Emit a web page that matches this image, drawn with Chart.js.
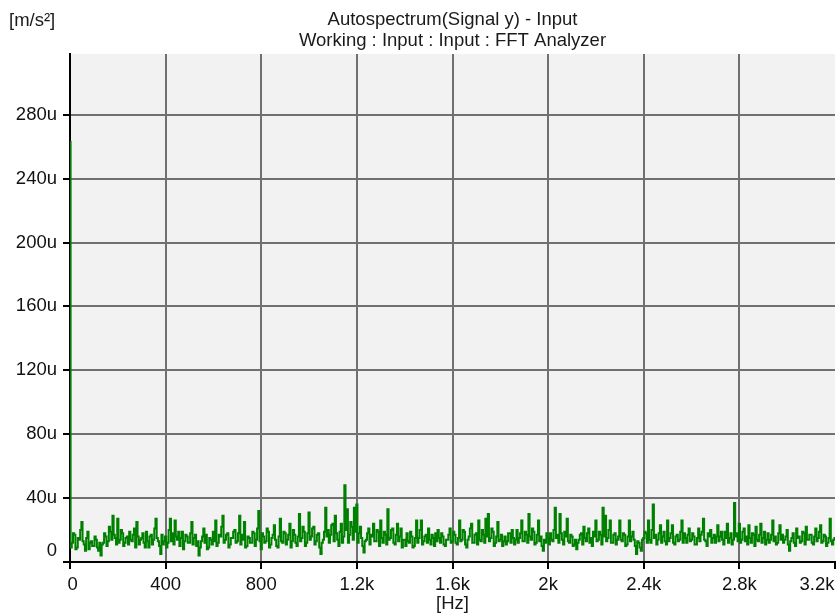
<!DOCTYPE html>
<html><head><meta charset="utf-8">
<script src="https://cdn.jsdelivr.net/npm/chart.js@4.4.1/dist/chart.umd.min.js"></script>
<style>html,body{margin:0;padding:0;background:#fff}canvas{display:block}</style>
</head><body>
<canvas id="c" width="838" height="614"></canvas>
<script>
// ---- texts ----
const titleLines = ['Autospectrum(Signal y) - Input', 'Working : Input : Input : FFT Analyzer'];
const yUnitLabel = '[m/s\u00B2]';
const xUnitLabel = '[Hz]';

// ---- axes ----
const xTickValues = [0, 400, 800, 1200, 1600, 2000, 2400, 2800, 3200];
const xTickLabels = [' 0', '400', '800', '1.2k', '1.6k', '2k', '2.4k', '2.8k', '3.2k       '];
const yTickValues = [0, 40, 80, 120, 160, 200, 240, 280];
const yTickLabels = ['0', '40u', '80u', '120u', '160u', '200u', '240u', '280u'];
const xMaxHz = 3200;
const yMaxMicro = 318;

// ---- series: autospectrum in micro m/s², one value every 5 Hz from 0 Hz (20 values per 100 Hz row) ----
const freqStepHz = 5;
const spectrumMicro = [
  263, 9, 12, 18, 17, 8, 9, 15, 14, 20, 25, 13, 11, 7, 15, 19, 8, 12, 13, 10,
  10, 16, 14, 9, 7, 12, 4, 11, 12, 18, 16, 10, 13, 22, 19, 14, 29, 17, 15, 11,
  27, 12, 14, 20, 18, 10, 12, 15, 16, 11, 19, 14, 13, 17, 21, 9, 25, 16, 11, 14,
  15, 18, 12, 9, 19, 13, 9, 16, 17, 11, 14, 21, 27, 15, 13, 10, 5, 17, 11, 13,
  16, 9, 12, 20, 27, 13, 18, 11, 26, 16, 14, 19, 10, 15, 19, 8, 13, 17, 16, 12,
  12, 18, 25, 11, 15, 17, 10, 13, 4, 9, 13, 16, 21, 12, 17, 8, 9, 15, 14, 11,
  19, 13, 26, 10, 12, 17, 16, 22, 29, 12, 14, 17, 18, 9, 11, 15, 15, 19, 20, 12,
  13, 18, 29, 11, 17, 14, 25, 9, 10, 16, 15, 12, 12, 19, 18, 10, 14, 21, 32, 13,
  8, 18, 16, 12, 13, 21, 19, 9, 11, 15, 17, 23, 14, 10, 9, 16, 27, 13, 12, 19,
  18, 11, 14, 17, 24, 9, 13, 20, 17, 12, 10, 16, 30, 13, 15, 22, 19, 10, 12, 18,
  31, 14, 16, 21, 22, 11, 13, 17, 18, 9, 5, 12, 14, 19, 34, 16, 20, 12, 17, 23,
  24, 13, 29, 18, 14, 10, 19, 24, 12, 16, 48, 20, 33, 12, 17, 25, 22, 14, 34, 19,
  36, 12, 18, 22, 15, 10, 6, 13, 14, 18, 21, 11, 17, 16, 24, 13, 13, 20, 19, 10,
  26, 15, 12, 19, 17, 11, 33, 14, 15, 20, 21, 12, 11, 17, 24, 13, 16, 21, 9, 14,
  14, 10, 18, 13, 12, 19, 16, 9, 10, 15, 26, 12, 15, 20, 26, 11, 13, 16, 17, 12,
  21, 14, 11, 17, 15, 10, 18, 13, 20, 15, 12, 18, 16, 11, 10, 14, 14, 17, 21, 12,
  13, 19, 17, 12, 11, 15, 26, 13, 14, 20, 19, 11, 9, 14, 16, 21, 24, 12, 12, 17,
  18, 11, 26, 14, 13, 20, 17, 12, 27, 16, 30, 13, 15, 21, 19, 10, 12, 16, 25, 13,
  14, 17, 10, 13, 16, 11, 13, 18, 18, 12, 20, 15, 11, 14, 20, 12, 15, 18, 26, 13,
  13, 19, 17, 12, 30, 16, 14, 21, 19, 11, 12, 17, 26, 13, 16, 10, 7, 14, 12, 18,
  15, 11, 18, 14, 13, 20, 34, 15, 17, 12, 30, 18, 14, 11, 19, 16, 27, 13, 12, 17,
  16, 10, 11, 14, 8, 12, 14, 17, 18, 11, 22, 15, 13, 18, 21, 12, 15, 10, 19, 16,
  26, 13, 14, 19, 17, 11, 34, 16, 29, 13, 15, 20, 26, 12, 12, 17, 18, 11, 14, 16,
  26, 14, 13, 18, 17, 10, 11, 16, 26, 13, 16, 19, 14, 10, 5, 13, 12, 9, 7, 14,
  15, 19, 18, 12, 26, 14, 12, 20, 36, 15, 17, 11, 14, 18, 23, 12, 16, 19, 13, 11,
  26, 13, 15, 18, 23, 12, 11, 16, 17, 13, 14, 19, 26, 12, 18, 15, 12, 17, 21, 13,
  14, 18, 16, 11, 11, 15, 21, 13, 17, 19, 27, 14, 13, 10, 18, 16, 20, 12, 15, 17,
  12, 16, 23, 13, 16, 19, 14, 11, 19, 15, 24, 12, 15, 18, 11, 14, 37, 16, 18, 13,
  24, 12, 14, 19, 21, 13, 16, 11, 23, 15, 12, 18, 17, 10, 22, 14, 13, 17, 24, 12,
  15, 19, 11, 14, 18, 12, 14, 17, 26, 13, 16, 11, 12, 18, 23, 14, 17, 12, 14, 16,
  20, 11, 7, 13, 15, 18, 12, 10, 21, 15, 16, 12, 13, 19, 18, 11, 22, 14, 14, 17,
  17, 12, 11, 16, 21, 13, 15, 19, 23, 12, 13, 17, 16, 10, 12, 15, 27, 13, 11, 14,
  15
];

// ---- styles ----
const FONT = '"Liberation Sans", Arial, sans-serif';
const FS = 18.5;
const points = spectrumMicro.map((v, i) => ({ x: i * freqStepHz, y: v }));

const plotBg = {
  id: 'plotBg',
  beforeDraw(chart) {
    const { ctx, chartArea: a } = chart;
    ctx.save();
    ctx.fillStyle = '#f2f2f2';
    ctx.fillRect(a.left, a.top, a.right - a.left, a.bottom - a.top);
    ctx.restore();
  }
};
const texts = {
  id: 'texts',
  afterDraw(chart) {
    const { ctx, chartArea: a } = chart;
    const cx = (a.left + a.right) / 2;
    ctx.save();
    ctx.fillStyle = '#1a1a1a';
    ctx.font = FS + 'px ' + FONT;
    ctx.textBaseline = 'alphabetic';
    ctx.textAlign = 'center';
    ctx.fillText(titleLines[0], cx, 25);
    ctx.fillText(titleLines[1], cx, 46);
    ctx.fillText(xUnitLabel, cx, 609);
    ctx.textAlign = 'left';
    ctx.fillText(yUnitLabel, 9, 26);
    ctx.restore();
  }
};

new Chart(document.getElementById('c'), {
  type: 'line',
  data: {
    datasets: [{
      data: points,
      borderColor: '#008000',
      borderWidth: 2,
      pointRadius: 0,
      stepped: 'middle',
      fill: false
    }]
  },
  options: {
    responsive: false,
    animation: false,
    events: [],
    layout: { padding: { top: 54, right: 3, left: 0, bottom: 0 } },
    plugins: { legend: { display: false }, tooltip: { enabled: false }, title: { display: false } },
    scales: {
      x: {
        type: 'linear',
        min: 0, max: xMaxHz,
        afterBuildTicks(s) { s.ticks = xTickValues.map(v => ({ value: v })); },
        afterFit(s) { s.height = 52; s.paddingLeft = 0; s.paddingRight = 0; },
        ticks: {
          autoSkip: false, maxRotation: 0, padding: 5,
          color: '#111', font: { family: FONT, size: FS },
          callback: (v) => { const i = xTickValues.indexOf(v); return i >= 0 ? xTickLabels[i] : ''; }
        },
        grid: {
          color: (c) => (c.tick && c.tick.value === xMaxHz) ? 'rgba(0,0,0,0)' : '#707070',
          lineWidth: 2, tickLength: 7, tickColor: '#000', tickWidth: 2
        },
        border: { color: '#000', width: 2 }
      },
      y: {
        type: 'linear',
        min: 0, max: yMaxMicro,
        afterBuildTicks(s) { s.ticks = yTickValues.map(v => ({ value: v })); },
        afterFit(s) { s.width = 70; s.paddingTop = 0; s.paddingBottom = 0; },
        ticks: {
          autoSkip: false, padding: 6,
          color: '#111', font: { family: FONT, size: FS },
          callback: (v) => { const i = yTickValues.indexOf(v); if (i < 0) return ''; return v === 0 ? [yTickLabels[i], ''] : yTickLabels[i]; }
        },
        grid: { color: '#707070', lineWidth: 2, tickLength: 7, tickColor: '#000', tickWidth: 2 },
        border: { color: '#000', width: 2 }
      }
    }
  },
  plugins: [plotBg, texts]
});
</script>
</body></html>
